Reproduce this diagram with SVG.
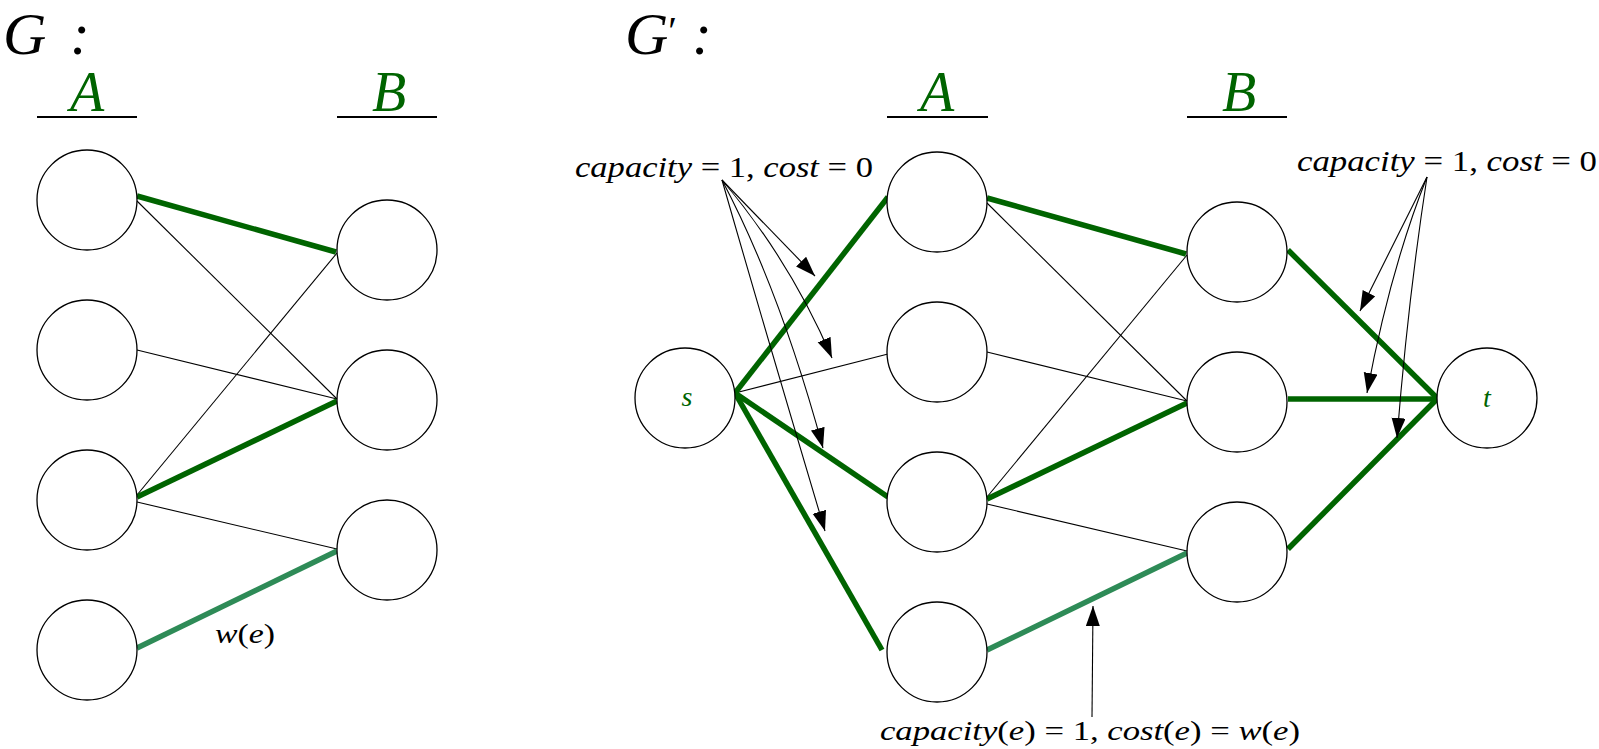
<svg xmlns="http://www.w3.org/2000/svg" width="1599" height="749" viewBox="0 0 1599 749">
<style>
  .node{fill:#fff;stroke:#000;stroke-width:1.3}
  .thin{stroke:#000;stroke-width:1.1;fill:none}
  .thick{stroke:#006400;stroke-width:5.5;fill:none;stroke-linecap:butt}
  .sea{stroke:#2e8b57;stroke-width:5.5;fill:none}
  .ann{stroke:#000;stroke-width:1.1;fill:none;marker-end:url(#ah)}
  .ul{stroke:#000;stroke-width:1.8}
  .math{font-family:"Liberation Serif",serif;font-style:italic;fill:#000}
  .up{font-style:normal}
  .grn{fill:#006400}
  .title{font-family:"Liberation Serif",serif;font-style:italic;font-size:60px;fill:#000}
  .set{font-family:"Liberation Serif",serif;font-style:italic;font-size:56px;fill:#006400;text-anchor:middle}
</style>
<defs>
  <marker id="ah" markerUnits="userSpaceOnUse" markerWidth="22" markerHeight="16" refX="20" refY="7" orient="auto">
    <path d="M0,0 L20,7 L0,14 z" fill="#000"/>
  </marker>
</defs>

<!-- Titles -->
<g id="title-G">
  <text class="title" x="3" y="54">G</text>
  <text class="title up" x="70" y="54">:</text>
</g>
<g id="title-Gp">
  <text class="title" x="625" y="54">G<tspan class="up" font-size="40" dy="-10">′</tspan></text>
  <text class="title up" x="692" y="54">:</text>
</g>

<!-- Set labels -->
<g id="label-A"><text class="set" x="87" y="111">A</text><line class="ul" x1="37" y1="117" x2="137" y2="117"/></g>
<g id="label-B"><text class="set" x="389" y="111">B</text><line class="ul" x1="337" y1="117" x2="437" y2="117"/></g>
<g id="label-A2"><text class="set" x="937" y="111">A</text><line class="ul" x1="887" y1="117" x2="988" y2="117"/></g>
<g id="label-B2"><text class="set" x="1239" y="111">B</text><line class="ul" x1="1187" y1="117" x2="1287" y2="117"/></g>

<!-- Connectors -->
<g id="connectors">
  <!-- G -->
  <line class="thin" x1="137" y1="201" x2="337" y2="399"/>
  <line class="thin" x1="137" y1="350" x2="337" y2="399"/>
  <line class="thin" x1="137" y1="495" x2="337" y2="253"/>
  <line class="thin" x1="137" y1="502" x2="337" y2="549"/>
  <line class="thick" x1="137" y1="196" x2="336" y2="252"/>
  <line class="thick" x1="137" y1="497" x2="337" y2="401"/>
  <line class="sea" x1="137" y1="648" x2="337" y2="551"/>
  <!-- G' middle -->
  <line class="thin" x1="987" y1="203" x2="1187" y2="401"/>
  <line class="thin" x1="987" y1="352" x2="1187" y2="401"/>
  <line class="thin" x1="987" y1="497" x2="1187" y2="255"/>
  <line class="thin" x1="987" y1="504" x2="1187" y2="551"/>
  <line class="thick" x1="987" y1="198" x2="1186" y2="254"/>
  <line class="thick" x1="987" y1="499" x2="1187" y2="403"/>
  <line class="sea" x1="987" y1="650" x2="1187" y2="553"/>
  <!-- s edges -->
  <line class="thin" x1="735" y1="393" x2="888" y2="354"/>
  <line class="thick" x1="735" y1="393" x2="888" y2="197"/>
  <line class="thick" x1="735" y1="393" x2="888" y2="497"/>
  <line class="thick" x1="735" y1="393" x2="882" y2="650"/>
  <!-- t edges -->
  <line class="thick" x1="1288" y1="250" x2="1437" y2="398"/>
  <line class="thick" x1="1288" y1="399" x2="1437" y2="399"/>
  <line class="thick" x1="1288" y1="549" x2="1437" y2="399"/>
  <!-- annotation arrows -->
  <path class="ann" d="M722,180 L815,276"/>
  <path class="ann" d="M722,180 Q790,260 832,358"/>
  <path class="ann" d="M722,180 Q780,290 823,448"/>
  <path class="ann" d="M722,180 Q765,330 825,531"/>
  <path class="ann" d="M1427,177 L1360,311"/>
  <path class="ann" d="M1427,177 Q1390,270 1367,393"/>
  <path class="ann" d="M1427,177 Q1408,300 1397,438"/>
  <path class="ann" d="M1092,717 L1093,606"/>
</g>

<!-- Nodes of G -->
<g id="gA1"><circle class="node" cx="87" cy="200" r="50"/></g>
<g id="gA2"><circle class="node" cx="87" cy="350" r="50"/></g>
<g id="gA3"><circle class="node" cx="87" cy="500" r="50"/></g>
<g id="gA4"><circle class="node" cx="87" cy="650" r="50"/></g>
<g id="gB1"><circle class="node" cx="387" cy="250" r="50"/></g>
<g id="gB2"><circle class="node" cx="387" cy="400" r="50"/></g>
<g id="gB3"><circle class="node" cx="387" cy="550" r="50"/></g>

<!-- Nodes of G' -->
<g id="s"><circle class="node" cx="685" cy="398" r="50"/><text class="math grn" x="687" y="406" font-size="28" text-anchor="middle">s</text></g>
<g id="hA1"><circle class="node" cx="937" cy="202" r="50"/></g>
<g id="hA2"><circle class="node" cx="937" cy="352" r="50"/></g>
<g id="hA3"><circle class="node" cx="937" cy="502" r="50"/></g>
<g id="hA4"><circle class="node" cx="937" cy="652" r="50"/></g>
<g id="hB1"><circle class="node" cx="1237" cy="252" r="50"/></g>
<g id="hB2"><circle class="node" cx="1237" cy="402" r="50"/></g>
<g id="hB3"><circle class="node" cx="1237" cy="552" r="50"/></g>
<g id="t"><circle class="node" cx="1487" cy="398" r="50"/><text class="math grn" x="1487" y="407" font-size="28" text-anchor="middle">t</text></g>

<!-- Edge labels -->
<g id="lbl-we"><text class="math" x="215" y="643" font-size="28" textLength="60" lengthAdjust="spacingAndGlyphs">w<tspan class="up">(</tspan>e<tspan class="up">)</tspan></text></g>
<g id="lbl-left"><text class="math" x="575" y="177" font-size="30" textLength="298" lengthAdjust="spacingAndGlyphs">capacity<tspan class="up"> = 1, </tspan>cost<tspan class="up"> = 0</tspan></text></g>
<g id="lbl-right"><text class="math" x="1297" y="171" font-size="30" textLength="300" lengthAdjust="spacingAndGlyphs">capacity<tspan class="up"> = 1, </tspan>cost<tspan class="up"> = 0</tspan></text></g>
<g id="lbl-bottom"><text class="math" x="880" y="740" font-size="28" textLength="420" lengthAdjust="spacingAndGlyphs">capacity<tspan class="up">(</tspan>e<tspan class="up">) = 1, </tspan>cost<tspan class="up">(</tspan>e<tspan class="up">) = </tspan>w<tspan class="up">(</tspan>e<tspan class="up">)</tspan></text></g>
</svg>
